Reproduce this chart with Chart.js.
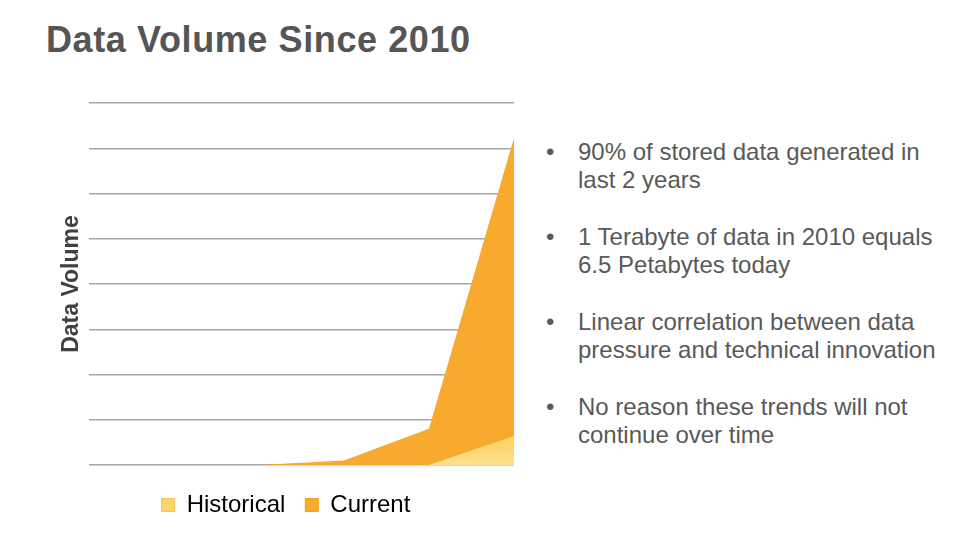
<!DOCTYPE html>
<html>
<head>
<meta charset="utf-8">
<script src="https://cdn.jsdelivr.net/npm/chart.js@4.4.1/dist/chart.umd.min.js"></script>
<style>
  html, body { margin: 0; padding: 0; background: #fff; }
  #page { position: relative; width: 960px; height: 540px; overflow: hidden; font-family: "Liberation Sans", Arial, sans-serif; }
  #title { position: absolute; left: 46px; top: 19px; font-size: 36px; font-weight: bold; color: #555; letter-spacing: 0.6px; white-space: nowrap; }
  #chartbox { position: absolute; left: 58px; top: 90px; width: 460px; height: 437px; }
  #notes { position: absolute; left: 546px; top: 138px; margin: 0; padding: 0; list-style: none; color: #595959; font-size: 24px; line-height: 28px; }
  #notes li { position: relative; padding-left: 32px; margin-bottom: 29px; }
  #notes li:before { content: "\2022"; position: absolute; left: 0; top: 0; }
</style>
</head>
<body>
<div id="page">
  <div id="title">Data Volume Since 2010</div>
  <div id="chartbox"><canvas id="volume_chart"></canvas></div>
  <ul id="notes"></ul>
</div>
<script>
var categories = ['2010', '2011', '2012', '2013', '2014', '2015'];
var historical = [0, 0, 0, 0, 0, 0.64];
var current = [0, 0, 0, 0.1, 0.8, 7.23];
var yTicks = [0, 1, 2, 3, 4, 5, 6, 7, 8];
var notes = [
  ['90% of stored data generated in', 'last 2 years'],
  ['1 Terabyte of data in 2010 equals', '6.5 Petabytes today'],
  ['Linear correlation between data', 'pressure and technical innovation'],
  ['No reason these trends will not', 'continue over time']
];

$ = function(s){ return document.querySelector(s); };

notes.forEach(function(n){
  var li = document.createElement('li');
  li.innerHTML = n.join('<br>');
  $('#notes').appendChild(li);
});

function historicalFill(ctx){
  var area = ctx.chart.chartArea;
  if (!area) return '#fcd060';
  var g = ctx.chart.ctx.createLinearGradient(0, area.bottom - 40, 0, area.bottom);
  g.addColorStop(0, '#fcc94c');
  g.addColorStop(1, '#fde08e');
  return g;
}

var myChart = new Chart($('#volume_chart'), {
  type: 'line',
  data: {
    labels: categories,
    datasets: [
      {
        label: 'Historical',
        data: historical,
        fill: 'origin',
        backgroundColor: historicalFill,
        borderColor: '#f6c350',
        borderWidth: 0,
        pointRadius: 0,
        tension: 0
      },
      {
        label: 'Current',
        data: current,
        fill: 'origin',
        backgroundColor: '#f8aa2e',
        borderColor: '#f5a524',
        borderWidth: 0,
        pointRadius: 0,
        tension: 0
      }
    ]
  },
  options: {
    responsive: true,
    maintainAspectRatio: false,
    animation: false,
    layout: { padding: { left: 0, right: 4, top: 13, bottom: 0 } },
    plugins: {
      tooltip: { enabled: false },
      legend: {
        position: 'bottom',
        labels: {
          color: '#404040',
          font: { family: '"Liberation Sans", Arial, sans-serif', size: 24 },
          boxWidth: 13,
          boxHeight: 13,
          padding: 20,
          generateLabels: function(chart){
            return chart.data.datasets.map(function(ds, i){
              return {
                text: ds.label,
                fillStyle: i === 0 ? '#fdd36a' : '#f8aa2e',
                strokeStyle: i === 0 ? '#f2c35a' : '#ee9e22',
                lineWidth: 1,
                datasetIndex: i
              };
            });
          }
        }
      }
    },
    scales: {
      x: {
        offset: false,
        grid: { display: false },
        border: { display: false },
        ticks: { display: false }
      },
      y: {
        min: yTicks[0],
        max: yTicks[yTicks.length - 1],
        afterBuildTicks: function(axis){
          axis.ticks = yTicks.map(function(v){ return { value: v }; });
        },
        grid: { color: '#a6a6a6', lineWidth: 1.5, drawTicks: false },
        border: { display: false },
        ticks: { display: false },
        title: {
          display: true,
          text: 'Data Volume',
          color: '#404040',
          font: { family: '"Liberation Sans", Arial, sans-serif', size: 23, weight: 'bold' },
          padding: { top: 0, bottom: 3 }
        }
      }
    }
  }
});
</script>
</body>
</html>
